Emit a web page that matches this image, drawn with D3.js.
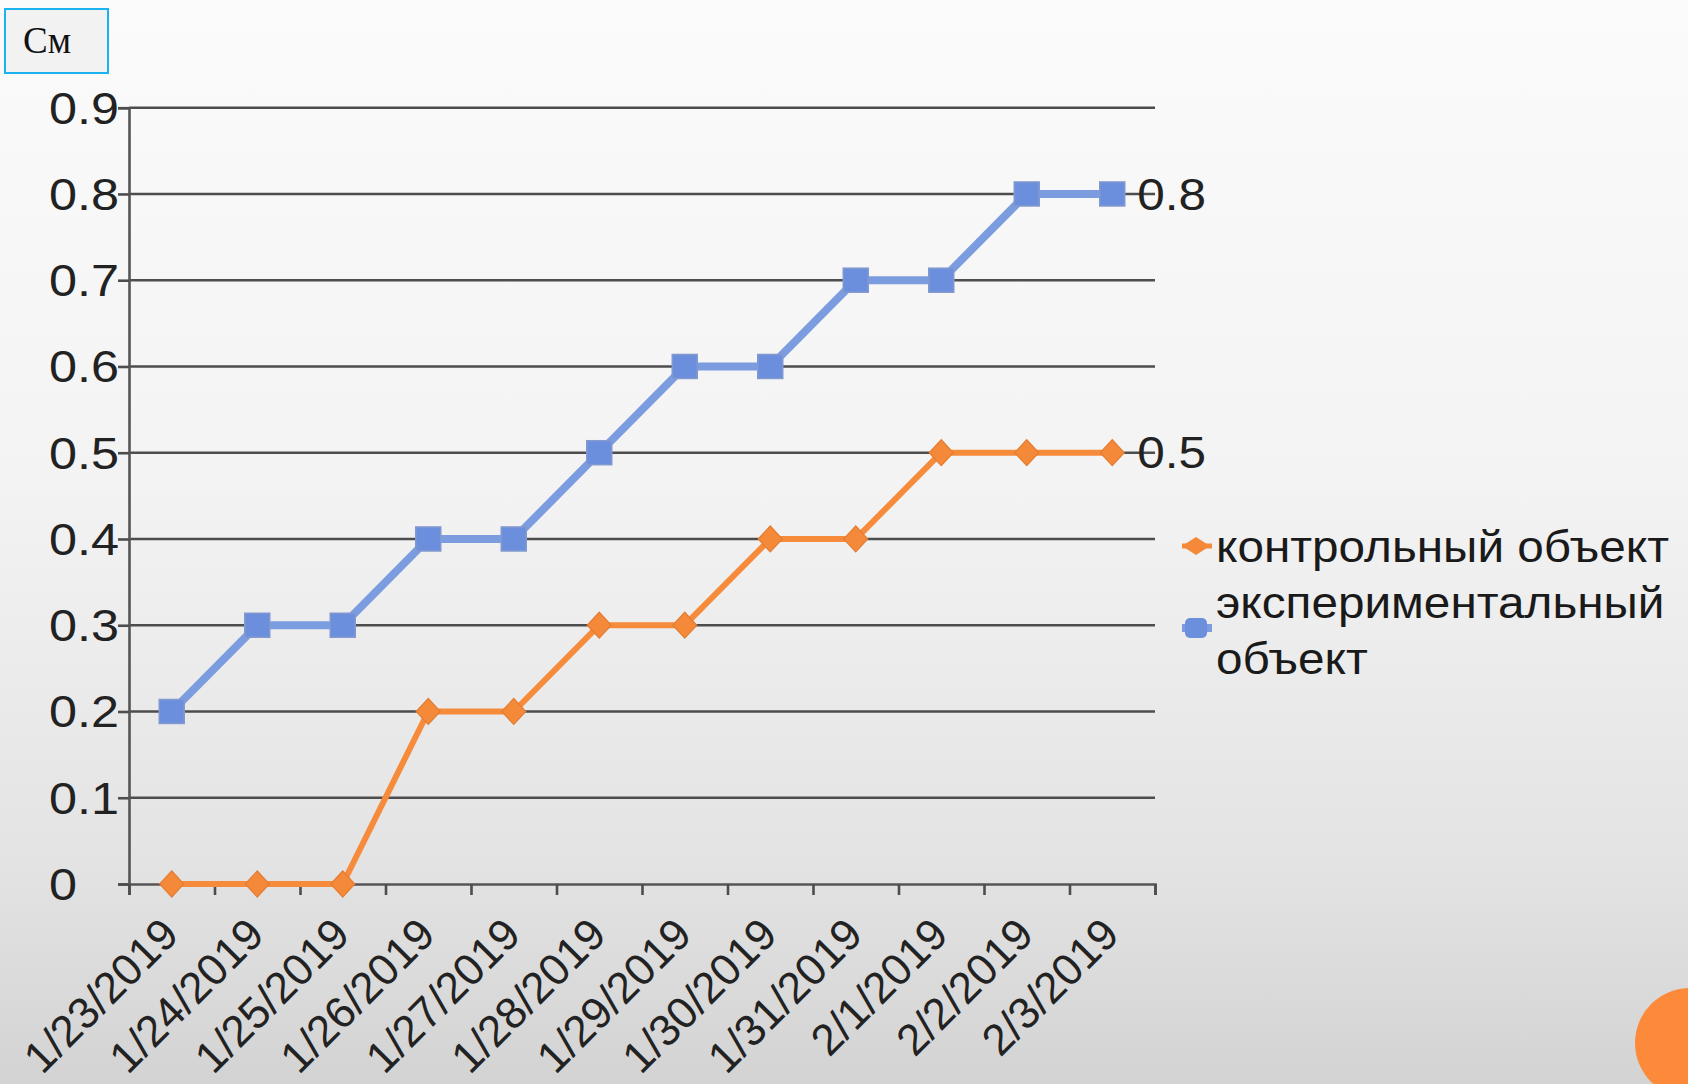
<!DOCTYPE html>
<html>
<head>
<meta charset="utf-8">
<script src="https://cdn.jsdelivr.net/npm/d3@7"></script>
<style>
  body { margin: 0; overflow: hidden; }
  svg { display: block; }
</style>
</head>
<body>
<svg id="chart"></svg>
<script>
var dates = ["1/23/2019", "1/24/2019", "1/25/2019", "1/26/2019", "1/27/2019", "1/28/2019",
             "1/29/2019", "1/30/2019", "1/31/2019", "2/1/2019", "2/2/2019", "2/3/2019"];
var control = [0, 0, 0, 0.2, 0.2, 0.3, 0.3, 0.4, 0.4, 0.5, 0.5, 0.5];
var experimental = [0.2, 0.3, 0.3, 0.4, 0.4, 0.5, 0.6, 0.6, 0.7, 0.7, 0.8, 0.8];
var yTicks = [0, 0.1, 0.2, 0.3, 0.4, 0.5, 0.6, 0.7, 0.8, 0.9];
var seriesNames = ["контрольный объект", ["экспериментальный", "объект"]];
var unitLabel = "См";

var w = 1688, h = 1084;
var font = "'Liberation Sans', Arial, sans-serif";

var svg = d3.select("#chart").attr("width", w).attr("height", h);

// background gradient
var defs = svg.append("defs");
var grad = defs.append("linearGradient").attr("id", "bg")
    .attr("x1", 0).attr("y1", 0).attr("x2", 0).attr("y2", 1);
grad.append("stop").attr("offset", "0").attr("stop-color", "#fbfbfb");
grad.append("stop").attr("offset", "0.45").attr("stop-color", "#f3f3f3");
grad.append("stop").attr("offset", "0.8").attr("stop-color", "#e3e3e3");
grad.append("stop").attr("offset", "1").attr("stop-color", "#d3d3d3");
svg.append("rect").attr("width", w).attr("height", h).attr("fill", "url(#bg)");

// scales
var x = d3.scaleBand().domain(dates).range([129, 1155]);
var xEdge = d3.scaleLinear().domain([0, dates.length]).range([129, 1155]);
var y = d3.scaleLinear().domain([0, 0.9]).range([884, 107.7]);

// gridlines
svg.append("g")
    .selectAll("line")
    .data(yTicks.slice(1))
    .enter()
    .append("line")
    .attr("x1", 129).attr("x2", 1155)
    .attr("y1", function (d) { return y(d); })
    .attr("y2", function (d) { return y(d); })
    .style("stroke", "#4d4d4d")
    .style("stroke-width", 2.6);

// y axis - labels are left aligned in the original
var yAxis = svg.append("g")
    .attr("transform", "translate(129,0)")
    .call(d3.axisLeft(y).tickValues(yTicks).tickSize(11)
        .tickFormat(function (d) { return d === 0 ? "0" : d3.format(".1f")(d); }));
yAxis.select(".domain").style("stroke", "#555").style("stroke-width", 2.6);
yAxis.selectAll(".tick line").style("stroke", "#4d4d4d").style("stroke-width", 2.6);
yAxis.selectAll("text")
    .attr("x", 0).attr("dy", "0.34em")
    .attr("text-anchor", "start")
    .attr("transform", "translate(-80,0) scale(1.12,1)")
    .style("font-family", font).style("font-size", "45px").style("fill", "#222");

// x axis (ticks between categories)
var xAxis = svg.append("g")
    .attr("transform", "translate(0,884)")
    .call(d3.axisBottom(xEdge).tickValues(d3.range(dates.length + 1)).tickSize(11).tickFormat(""));
xAxis.select(".domain").style("stroke", "#555").style("stroke-width", 2.6);
xAxis.selectAll(".tick line").style("stroke", "#4d4d4d").style("stroke-width", 2.6);

svg.append("g")
    .selectAll("text")
    .data(dates)
    .enter()
    .append("text")
    .attr("transform", function (d) {
        return "translate(" + (x(d) + x.bandwidth() / 2 + 9) + ",937) rotate(-45)";
    })
    .attr("text-anchor", "end")
    .style("font-family", font).style("font-size", "44px").style("fill", "#222")
    .text(function (d) { return d; });

var cx = function (d, i) { return x(dates[i]) + x.bandwidth() / 2; };
var line = d3.line().x(cx).y(function (d) { return y(d); });

// experimental series
svg.append("path").datum(experimental)
    .attr("d", line).attr("fill", "none")
    .style("stroke", "#7c9ce0").style("stroke-width", 8).style("stroke-linejoin", "round");
svg.append("g").selectAll("rect")
    .data(experimental)
    .enter()
    .append("rect")
    .attr("x", function (d, i) { return cx(d, i) - 12.5; })
    .attr("y", function (d) { return y(d) - 12; })
    .attr("width", 25).attr("height", 24)
    .style("fill", "#6c8fdd").style("stroke", "#8299cf").style("stroke-width", 1.5);

// control series
svg.append("path").datum(control)
    .attr("d", line).attr("fill", "none")
    .style("stroke", "#f58b3b").style("stroke-width", 6).style("stroke-linejoin", "round");
var diamond = function (px, py, rx, ry) {
    return "M" + (px - rx) + "," + py + "L" + px + "," + (py - ry) + "L" + (px + rx) + "," + py + "L" + px + "," + (py + ry) + "Z";
};
svg.append("g").selectAll("path")
    .data(control)
    .enter()
    .append("path")
    .attr("d", function (d, i) { return diamond(cx(d, i), y(d), 12, 13); })
    .style("fill", "#f5893a").style("stroke", "#e47d33").style("stroke-width", 1.2);

// end labels
var last = dates.length - 1;
[experimental[last], control[last]].forEach(function (v) {
    svg.append("text")
        .attr("transform", "translate(" + (cx(v, last) + 25) + "," + y(v) + ") scale(1.1,1)")
        .attr("dy", "0.35em")
        .style("font-family", font).style("font-size", "45px").style("fill", "#222")
        .text(d3.format(".1f")(v));
});

// legend
var lg = svg.append("g");
lg.append("line").attr("x1", 1182).attr("x2", 1212).attr("y1", 546).attr("y2", 546)
    .style("stroke", "#f58b3b").style("stroke-width", 5);
lg.append("path").attr("d", diamond(1196, 546, 14, 9)).style("fill", "#f5893a");
lg.append("line").attr("x1", 1182).attr("x2", 1212).attr("y1", 628).attr("y2", 628)
    .style("stroke", "#7c9ce0").style("stroke-width", 8);
lg.append("rect").attr("x", 1185).attr("y", 618).attr("width", 22).attr("height", 20)
    .attr("rx", 5).style("fill", "#6c8fdd");
var legendLines = [[seriesNames[0], 562], [seriesNames[1][0], 618], [seriesNames[1][1], 674]];
lg.selectAll("text.lbl")
    .data(legendLines)
    .enter()
    .append("text")
    .attr("class", "lbl")
    .attr("transform", function (d) { return "translate(1216," + d[1] + ") scale(1.06,1)"; })
    .style("font-family", font).style("font-size", "45px").style("fill", "#1a1a1a")
    .text(function (d) { return d[0]; });

// unit box
svg.append("rect").attr("x", 5).attr("y", 9).attr("width", 103).attr("height", 64)
    .style("fill", "#f2f2f2").style("stroke", "#1ab2ef").style("stroke-width", 2);
svg.append("text").attr("x", 23).attr("y", 53)
    .style("font-family", "'Liberation Serif', 'Times New Roman', serif")
    .style("font-size", "37px").style("fill", "#111")
    .text(unitLabel);

// decorative orange circle
svg.append("circle").attr("cx", 1690).attr("cy", 1043).attr("r", 55).style("fill", "#fd8a3a");
</script>
</body>
</html>
